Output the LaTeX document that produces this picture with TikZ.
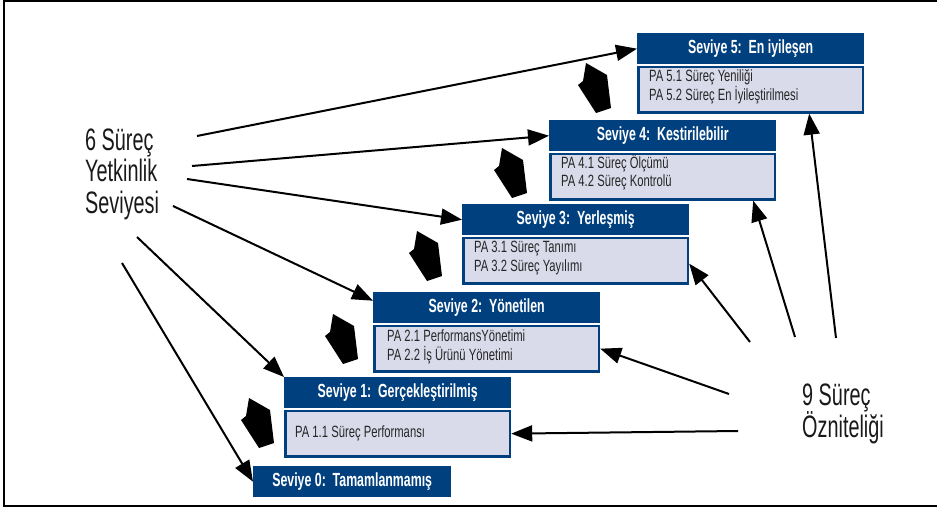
\documentclass[tikz,border=0pt]{standalone}
\usepackage{fontspec}
\setmainfont{Liberation Sans}
\newfontfamily\hdrfont{Liberation Sans}[FakeStretch=0.65]
\newfontfamily\bodyfont{Liberation Sans}[FakeStretch=0.69]
\newfontfamily\bigfont{Liberation Sans}[FakeStretch=0.64]
\usetikzlibrary{arrows.meta,calc}
\definecolor{dblue}{HTML}{00407E}
\definecolor{lbody}{HTML}{D9DBEA}
\begin{document}
\begin{tikzpicture}[x=1pt,y=-1pt,
  hdr/.style={fill=dblue, text=white, inner sep=0pt, anchor=north west,
    minimum width=227pt, minimum height=31pt,
    font=\hdrfont\bfseries\fontsize{19}{22}\selectfont},
  bodybox/.style={fill=lbody, draw=dblue, line width=2.5pt, inner sep=0pt, anchor=north,
    minimum width=224.5pt, minimum height=45.5pt},
  bodytext/.style={inner sep=0pt, anchor=base west, text=black!85,
    font=\bodyfont\fontsize{16.3}{19}\selectfont},
  bigtext/.style={inner sep=0pt, anchor=base west, text=black!90,
    font=\bigfont\fontsize{31}{34}\selectfont},
  conn/.style={line width=2pt, -{Triangle[length=21pt,width=16pt]}},
  blk/.style={fill=black},
]
\useasboundingbox (0,0) rectangle (937,508);
% frame
\draw[line width=2pt] (937,1.5) -| (3.5,505.5) -- (937,505.5);

% level boxes
\node[hdr] (h5) at (637,33) {Seviye 5:\ \ En iyileşen};
\node[bodybox] (p5) at ($(h5.south)+(0,1.25)$) {};
\node[hdr] (h4) at (549,120) {Seviye 4:\ \ Kestirilebilir};
\node[bodybox] (p4) at ($(h4.south)+(0,1.25)$) {};
\node[hdr] (h3) at (462,204) {Seviye 3:\ \ Yerleşmiş};
\node[bodybox] (p3) at ($(h3.south)+(0,1.25)$) {};
\node[hdr] (h2) at (373,292) {Seviye 2:\ \ Yönetilen};
\node[bodybox] (p2) at ($(h2.south)+(0,1.25)$) {};
\node[hdr] (h1) at (284,377) {Seviye 1:\ \ Gerçekleştirilmiş};
\node[bodybox] (p1) at ($(h1.south)+(0,1.25)$) {};
\node[hdr, minimum width=198pt] (h0) at (253,466) {Seviye 0:\ \ Tamamlanmamış};

% body texts
\node[bodytext] (t51) at ($(h5.north west)+(12,49)$) {PA 5.1 Süreç Yeniliği};
\node[bodytext] (t52) at ($(h5.north west)+(12,67.5)$) {PA 5.2 Süreç En İyileştirilmesi};
\node[bodytext] (t41) at ($(h4.north west)+(12,48)$) {PA 4.1 Süreç Ölçümü};
\node[bodytext] (t42) at ($(h4.north west)+(12,66.5)$) {PA 4.2 Süreç Kontrolü};
\node[bodytext] (t31) at ($(h3.north west)+(12,48.5)$) {PA 3.1 Süreç Tanımı};
\node[bodytext] (t32) at ($(h3.north west)+(12,67)$) {PA 3.2 Süreç Yayılımı};
\node[bodytext] (t21) at ($(h2.north west)+(14,49.5)$) {PA 2.1 PerformansYönetimi};
\node[bodytext] (t22) at ($(h2.north west)+(14,68.5)$) {PA 2.2 İş Ürünü Yönetimi};
\node[bodytext] (t11) at ($(h1.north west)+(11,60)$) {PA 1.1 Süreç Performansı};

% big labels
\node[bigtext] (l1a) at (85,150) {6 Süreç};
\node[bigtext] (l1b) at (85,182) {Yetkinlik};
\node[bigtext] (l1c) at (85,213) {Seviyesi};
\node[bigtext] (l2a) at (802,405) {9 Süreç};
\node[bigtext] (l2b) at (802,437) {Özniteliği};

% connector start points
\coordinate (s1) at (197,136);
\coordinate (s2) at (192,166);
\coordinate (s3) at (187,179);
\coordinate (s4) at (173,206);
\coordinate (s5) at (137,237);
\coordinate (s6) at (122,263);
\coordinate (r1) at (738,431);
\coordinate (r2) at (729,394);
\coordinate (r3) at (750,342);
\coordinate (r4) at (795,337);
\coordinate (r5) at (836,338);

\draw[conn] (s1) -- (h5.west);
\draw[conn] (s2) -- (h4.west);
\draw[conn] (s3) -- (h3.west);
\draw[conn] (s4) -- ($(h2.west)+(0,-7)$);
\draw[conn] (s5) -- (h1.north west);
\draw[conn] (s6) -- (h0.west);

\draw[conn] (r1) -- (p1.east);
\draw[conn] (r2) -- (p2.east);
\draw[conn] (r3) -- ($(p3.east)+(0,3)$);
\draw[conn] (r4) -- ($(p4.south east)+(-23,0)$);
\draw[conn] (r5) -- ($(p5.south east)+(-55,0)$);

% block arrows between levels
\foreach \n/\x/\y in {0/249/398, 1/333/314, 2/417/231, 3/502/148, 4/586/63}{
  \coordinate (A\n) at (\x,\y);
  \fill[blk] (A\n) -- ++(21,12) -- ++(4,33) -- ++(-15,5) -- ++(-18,-28) -- ++(5,-4) -- cycle;
}
\end{tikzpicture}
\end{document}
